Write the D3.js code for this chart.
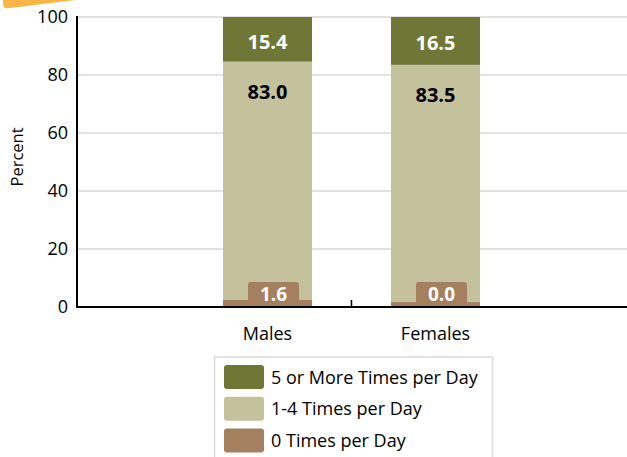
<!DOCTYPE html>
<html>
<head>
<meta charset="utf-8">
<script src="https://cdn.jsdelivr.net/npm/d3@7"></script>
<style>
  body { margin: 0; background: #fff; }
  svg { font-family: "Open Sans", sans-serif; }
</style>
</head>
<body>
<svg width="627" height="457"></svg>
<script>
// categories + series (plotted heights, labels as printed)
const groups = ["Males", "Females"];
const fivePlus = [15.4, 16.5];
const oneToFour = [82.0, 81.8];
const zeroTimes = [2.6, 1.7];
const fiveLabels = ["15.4", "16.5"];
const midLabels = ["83.0", "83.5"];
const zeroLabels = ["1.6", "0.0"];
const yTicks = [0, 20, 40, 60, 80, 100];
const legendNames = ["5 or More Times per Day", "1-4 Times per Day", "0 Times per Day"];

const colors = { five: "#6f7736", mid: "#c4c19d", zero: "#a5805f" };

const svg = d3.select("svg");

// little orange tab top-left
svg.append("rect")
  .attr("x", 4).attr("y", -14)
  .attr("width", 96).attr("height", 22)
  .attr("rx", 4)
  .attr("fill", "#fbb544")
  .attr("transform", "rotate(-7, 10, 10)");

const x = d3.scaleBand()
  .domain(groups)
  .range([183.5, 519.5])
  .paddingInner(0.47)
  .paddingOuter(0.235);

const y = d3.scaleLinear().domain([0, 100]).range([307, 17]);

// gridlines
svg.append("g")
  .selectAll("line")
  .data(yTicks.filter(d => d > 0))
  .join("line")
  .attr("x1", 77).attr("x2", 627)
  .attr("y1", d => y(d)).attr("y2", d => y(d))
  .attr("stroke", "#d9d9d9")
  .attr("stroke-width", 1.5);

// stacked data
const rows = groups.map((g, i) => ({ g, zero: zeroTimes[i], mid: oneToFour[i], five: fivePlus[i] }));
const stack = d3.stack().keys(["zero", "mid", "five"])(rows);

svg.append("g")
  .selectAll("g")
  .data(stack)
  .join("g")
  .attr("fill", d => colors[d.key])
  .selectAll("rect")
  .data(d => d)
  .join("rect")
  .attr("x", d => x(d.data.g))
  .attr("width", x.bandwidth())
  .attr("y", d => y(d[1]))
  .attr("height", d => y(d[0]) - y(d[1]));

// labels on the bars
const fiveLayer = stack[2], midLayer = stack[1];
svg.append("g")
  .selectAll("text")
  .data(fiveLayer)
  .join("text")
  .attr("x", d => x(d.data.g) + x.bandwidth() / 2)
  .attr("y", d => (y(d[0]) + y(d[1])) / 2 + 9.5)
  .attr("text-anchor", "middle")
  .attr("fill", "#fff")
  .attr("font-weight", "bold")
  .attr("font-size", 20)
  .text((d, i) => fiveLabels[i]);

svg.append("g")
  .selectAll("text")
  .data(midLayer)
  .join("text")
  .attr("x", d => x(d.data.g) + x.bandwidth() / 2)
  .attr("y", d => y(d[1]) + 37)
  .attr("text-anchor", "middle")
  .attr("fill", "#000")
  .attr("font-weight", "bold")
  .attr("font-size", 20)
  .text((d, i) => midLabels[i]);

// brown label boxes for the 0 times series
const zl = svg.append("g")
  .selectAll("g")
  .data(stack[0])
  .join("g")
  .attr("transform", d => `translate(${x(d.data.g) + x.bandwidth() / 2 + 6},0)`);
zl.append("rect")
  .attr("x", -25.5).attr("width", 51)
  .attr("y", 282)
  .attr("height", d => y(d[0]) - 282)
  .attr("rx", 3)
  .attr("fill", colors.zero);
zl.append("text")
  .attr("y", 301)
  .attr("text-anchor", "middle")
  .attr("fill", "#fff")
  .attr("font-weight", "bold")
  .attr("font-size", 19)
  .text((d, i) => zeroLabels[i]);

// y axis
const yAxis = svg.append("g")
  .attr("transform", "translate(77,0)")
  .call(d3.axisLeft(y).tickValues(yTicks).tickSize(0).tickPadding(9));
yAxis.select(".domain").remove();
yAxis.selectAll("text").attr("font-size", 18).attr("fill", "#000").attr("font-family", "'Open Sans', sans-serif");
svg.append("line")
  .attr("x1", 77).attr("x2", 77).attr("y1", 16).attr("y2", 308)
  .attr("stroke", "#000").attr("stroke-width", 2);

// x axis
svg.append("line")
  .attr("x1", 76).attr("x2", 627).attr("y1", 307).attr("y2", 307)
  .attr("stroke", "#000").attr("stroke-width", 2);
const midTick = x("Females") - x.step() * x.paddingInner() / 2;
svg.append("line")
  .attr("x1", midTick).attr("x2", midTick).attr("y1", 300).attr("y2", 307)
  .attr("stroke", "#000").attr("stroke-width", 1.5);
svg.append("g")
  .selectAll("text")
  .data(groups)
  .join("text")
  .attr("x", d => x(d) + x.bandwidth() / 2)
  .attr("y", 340)
  .attr("text-anchor", "middle")
  .attr("font-size", 18)
  .text(d => d);

// y title
svg.append("text")
  .attr("transform", "translate(23,157) rotate(-90)")
  .attr("text-anchor", "middle")
  .attr("font-size", 16.5)
  .text("Percent");

// legend
const legend = svg.append("g");
legend.append("rect")
  .attr("x", 214.5).attr("y", 357)
  .attr("width", 278).attr("height", 110)
  .attr("fill", "#fff")
  .attr("stroke", "#d9d9d9").attr("stroke-width", 1.5);
const legendColors = [colors.five, colors.mid, colors.zero];
const li = legend.selectAll("g.item")
  .data(legendNames)
  .join("g")
  .attr("class", "item")
  .attr("transform", (d, i) => `translate(224,${365 + i * 31.8})`);
li.append("rect")
  .attr("width", 40).attr("height", 24).attr("rx", 3)
  .attr("fill", (d, i) => legendColors[i]);
li.append("text")
  .attr("x", 47).attr("y", 18.5)
  .attr("font-size", 18)
  .text(d => d);
</script>
</body>
</html>
